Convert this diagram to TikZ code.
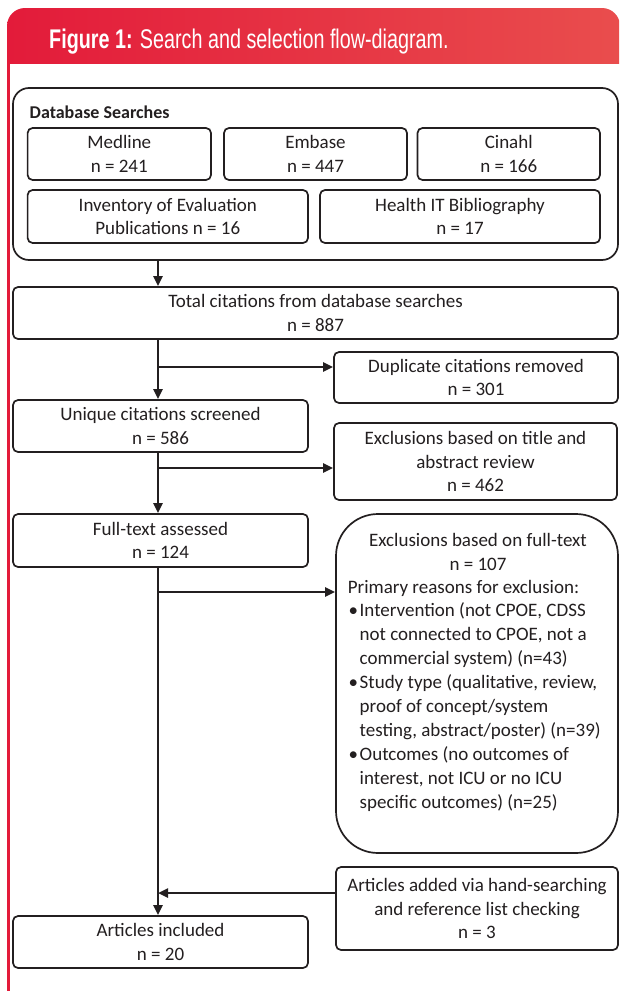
\documentclass[tikz,border=0pt]{standalone}
\usepackage{fontspec}
\setmainfont{Carlito}
\newfontfamily\hdrfont[FakeStretch=0.732]{Liberation Sans}
\usetikzlibrary{arrows.meta}
\definecolor{hdrL}{RGB}{227,27,58}
\definecolor{hdrR}{RGB}{233,77,77}
\definecolor{lineC}{RGB}{35,31,32}
\definecolor{txtC}{RGB}{35,31,32}
\newcommand\bodyfs{\fontsize{19}{23.6}\selectfont}
\begin{document}
\begin{tikzpicture}[x=1pt,y=-1pt,
  box/.style={draw=lineC, line width=1.7pt, rounded corners=5pt, inner sep=0pt, align=center, font=\bodyfs, text=txtC, execute at begin node={\rule{0pt}{20pt}}},
  conn/.style={draw=lineC, line width=2.4pt, -{Triangle[length=10pt,width=9pt]}},
  plain/.style={font=\bodyfs, text=txtC, inner sep=0pt},
  ]
\useasboundingbox (0,0) rectangle (619,991);
\fill[white] (0,0) rectangle (619,991);
\begin{scope}
\clip (0,0) rectangle (619,63);
\shade[left color=hdrL, right color=hdrR, rounded corners=18pt] (7,8) rectangle (620,110);
\end{scope}
\fill[hdrL] (7,62) rectangle (10,991);
\node[anchor=base west, inner sep=0pt, text=white, font=\hdrfont\fontsize{27}{31}\selectfont] (title) at (49,48.5) {\textbf{Figure 1:} Search and selection flow-diagram.};

% database searches
\node[draw=lineC, line width=1.7pt, rounded corners=16pt, minimum width=605pt, minimum height=172pt] (db) at (315.5,174) {};
\node[plain, anchor=west, font=\bfseries\fontsize{18}{22}\selectfont] (dblabel) at (29.5,112) {Database Searches};
\node[box, minimum width=183.4pt, minimum height=52pt] (medline) at (119.3,154) {Medline\\n = 241};
\node[box, minimum width=183pt, minimum height=52pt] (embase) at (315.5,154) {Embase\\n = 447};
\node[box, minimum width=182.5pt, minimum height=52pt] (cinahl) at (508.75,154) {Cinahl\\n = 166};
\node[box, minimum width=280.4pt, minimum height=53pt] (inventory) at (167.8,216.5) {Inventory of Evaluation\\Publications n = 16};
\node[box, minimum width=280pt, minimum height=53pt] (healthit) at (460,216.5) {Health IT Bibliography\\n = 17};

\node[box, minimum width=605pt, minimum height=52pt] (total) at (315.5,313) {Total citations from database searches\\n = 887};
\node[box, minimum width=284pt, minimum height=51pt] (dup) at (476,377.5) {Duplicate citations removed\\n = 301};
\node[box, minimum width=295pt, minimum height=52pt] (unique) at (160.5,426) {Unique citations screened\\n = 586};
\node[box, minimum width=283pt, minimum height=77pt] (excl1) at (475.5,461.5) {Exclusions based on title and\\abstract review\\n = 462};
\node[box, minimum width=295pt, minimum height=53pt] (fulltext) at (160.5,540.5) {Full-text assessed\\n = 124};
\node[draw=lineC, line width=1.7pt, rounded corners=42pt, minimum width=282pt, minimum height=339pt] (excl2) at (477,683.5) {};
\node[box, minimum width=282pt, minimum height=83pt] (added) at (477,908.5) {Articles added via hand-searching\\and reference list checking\\n = 3};
\node[box, minimum width=295pt, minimum height=52pt] (included) at (160.5,942) {Articles included\\n = 20};

% text of full-text exclusions
\node[plain, anchor=base] (e2a) at (478,546) {Exclusions based on full-text};
\node[plain, anchor=base] (e2b) at (478,570) {n = 107};
\node[plain, anchor=base west] (r0) at (347.6,593) {Primary reasons for exclusion:};
\node[plain, anchor=base west] (b1) at (348.5,616.9) {\textbullet};
\node[plain, anchor=base west] (r1) at (359.5,616.9) {Intervention (not CPOE, CDSS};
\node[plain, anchor=base west] (r2) at (359.5,640.8) {not connected to CPOE, not a};
\node[plain, anchor=base west] (r3) at (359.5,664.7) {commercial system) (n=43)};
\node[plain, anchor=base west] (b2) at (348.5,688.6) {\textbullet};
\node[plain, anchor=base west] (r4) at (359.5,688.6) {Study type (qualitative, review,};
\node[plain, anchor=base west] (r5) at (359.5,712.5) {proof of concept/system};
\node[plain, anchor=base west] (r6) at (359.5,736.4) {testing, abstract/poster) (n=39)};
\node[plain, anchor=base west] (b3) at (348.5,760.3) {\textbullet};
\node[plain, anchor=base west] (r7) at (359.5,760.3) {Outcomes (no outcomes of};
\node[plain, anchor=base west] (r8) at (359.5,784.2) {interest, not ICU or no ICU};
\node[plain, anchor=base west] (r9) at (359.5,808.1) {specific outcomes) (n=25)};

% connectors
\coordinate (sp) at (158,0);
\coordinate (j1) at (158,367);
\coordinate (j2) at (158,468);
\coordinate (j3) at (158,592);
\coordinate (j4) at (158,893);
\draw[conn] (db.south -| sp) -- (total.north -| sp);
\draw[conn] (total.south -| sp) -- (unique.north -| sp);
\draw[conn] (j1) -- (j1 -| dup.west);
\draw[conn] (unique.south -| sp) -- (fulltext.north -| sp);
\draw[conn] (j2) -- (j2 -| excl1.west);
\draw[conn] (fulltext.south -| sp) -- (included.north -| sp);
\draw[conn] (j3) -- (j3 -| excl2.west);
\draw[conn] (j4 -| added.west) -- (j4);
\end{tikzpicture}
\end{document}
